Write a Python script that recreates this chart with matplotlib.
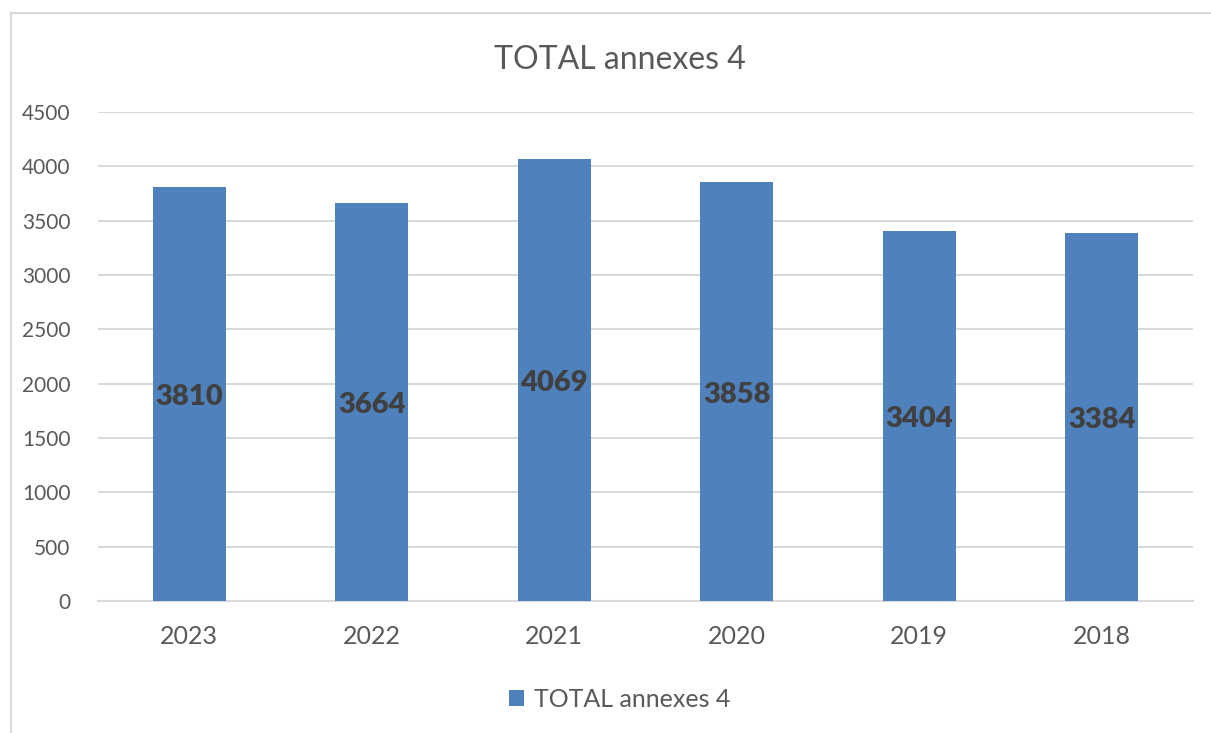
import matplotlib.pyplot as plt
from matplotlib.patches import Rectangle

years = ['2023', '2022', '2021', '2020', '2019', '2018']
totals = [3810, 3664, 4069, 3858, 3404, 3384]
yticks = [0, 500, 1000, 1500, 2000, 2500, 3000, 3500, 4000, 4500]

plt.rcParams['font.family'] = ['Lato', 'DejaVu Sans']

fig = plt.figure(figsize=(12.11, 7.33), dpi=100)
ax = fig.add_axes([0.081, 0.180, 0.904, 0.667])

# outer chart border (light grey), cut off at right/bottom like the reference
fig.patches.append(Rectangle((11 / 1211, -0.1), 1.2, 1.1 - 13 / 733,
                             transform=fig.transFigure, fill=False,
                             edgecolor='#d9d9d9', linewidth=1.5))

bars = ax.bar(years, totals, width=0.4, color='#4f81bd', zorder=3,
              label='TOTAL annexes 4')
for b, v in zip(bars, totals):
    ax.text(b.get_x() + b.get_width() / 2, v / 2 - 30, str(v), ha='center',
            va='center', fontsize=21, fontweight='heavy', color='#404040',
            zorder=4)

ax.set_ylim(0, 4500)
ax.set_xlim(-0.5, len(years) - 0.5)
ax.set_yticks(yticks)
ax.grid(axis='y', color='#d9d9d9', linewidth=1.5, zorder=0)
for s in ['top', 'right', 'left']:
    ax.spines[s].set_visible(False)
ax.spines['bottom'].set_color('#d9d9d9')
ax.spines['bottom'].set_linewidth(1.5)
ax.tick_params(axis='both', length=0, colors='#595959')
ax.tick_params(axis='x', labelsize=18, pad=17)
ax.tick_params(axis='y', labelsize=15, pad=20)

fig.text(0.512, 0.918, 'TOTAL annexes 4', ha='center', va='center',
         fontsize=23, color='#595959')
fig.legend(handles=[bars], loc='center', bbox_to_anchor=(0.512, 0.046),
           frameon=False, fontsize=18, handlelength=0.6, handleheight=0.6,
           handletextpad=0.4, labelcolor='#595959')

fig.savefig('out.png', dpi=100)
